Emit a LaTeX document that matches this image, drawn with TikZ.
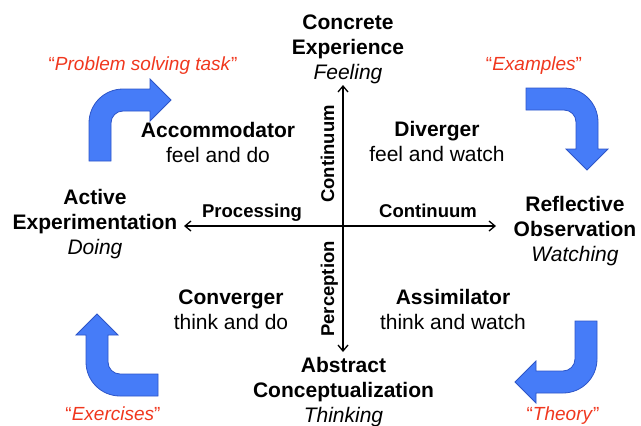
\documentclass[tikz,border=0pt]{standalone}
\usepackage{fontspec}
\setmainfont{Liberation Sans}
\usetikzlibrary{arrows.meta}
\definecolor{flowblue}{RGB}{70,124,248}
\definecolor{flowedge}{RGB}{45,85,200}
\definecolor{hintred}{RGB}{240,55,30}
\tikzset{
  mode/.style={anchor=north, inner sep=0pt, align=center,
    font=\fontsize{21}{25}\selectfont},
  axislabel/.style={anchor=base, inner sep=0pt,
    font=\fontsize{18.5}{22}\selectfont\bfseries},
  hint/.style={anchor=base, inner sep=0pt, text=hintred,
    font=\fontsize{19}{22}\selectfont},
  axis/.style={line width=1.3pt,
    {Straight Barb[length=6pt,width=10pt]}-{Straight Barb[length=6pt,width=10pt]}},
  % bent block arrow: outer corner at the origin, tail runs down, head points right
  bentarrow/.pic={
    \draw[fill=flowblue, draw=flowedge, line width=0.8pt, line join=miter]
      (0,72) -- (0,34) .. controls (0,15.22) and (15.22,0) .. (34,0)
      -- (61,0) -- (61,-10) -- (82,11) -- (61,32) -- (61,22) -- (34,22)
      .. controls (27.37,22) and (22,27.37) .. (22,34) -- (22,72) -- cycle;
  }
}
\begin{document}
\begin{tikzpicture}[x=1pt,y=-1pt]
\useasboundingbox (0,0) rectangle (641,426);

% cycle arrows between the four modes
\pic (toConcrete) at (89,89) {bentarrow};
\pic[rotate=-90] (toReflective) at (598,88) {bentarrow};
\pic[rotate=180] (toAbstract) at (597,393) {bentarrow};
\pic[rotate=90] (toActive) at (86,396) {bentarrow};

% axes
\coordinate (W) at (184,226);
\coordinate (E) at (496,226);
\coordinate (N) at (343,85);
\coordinate (S) at (343,352);
\draw[axis] (W) -- (E);
\draw[axis] (S) -- (N);

% the four learning modes
\node[mode] (CE) at (348,14.5) {\textbf{Concrete}\\\textbf{Experience}\\\textit{Feeling}};
\node[mode] (RO) at (575,196.5) {\textbf{Reflective}\\\textbf{Observation}\\\textit{Watching}};
\node[mode] (AC) at (343.5,357) {\textbf{Abstract}\\\textbf{Conceptualization}\\\textit{Thinking}};
\node[mode] (AE) at (95,189.5) {\textbf{Active}\\\textbf{Experimentation}\\\textit{Doing}};

% the four learning styles
\node[mode] (ACC) at (218,122.5) {\textbf{Accommodator}\\feel and do};
\node[mode] (DIV) at (437,121.5) {\textbf{Diverger}\\feel and watch};
\node[mode] (CON) at (231,289.5) {\textbf{Converger}\\think and do};
\node[mode] (ASS) at (453,289.5) {\textbf{Assimilator}\\think and watch};

% axis labels
\node[axislabel] (proc) at (252,217) {Processing};
\node[axislabel] (contH) at (428,217) {Continuum};
\node[axislabel, rotate=90] (contV) at (334,154) {Continuum};
\node[axislabel, rotate=90] (perc) at (334,289) {Perception};

% activity hints
\node[hint] (hProblem) at (143,70) {“\textit{Problem solving task}”};
\node[hint] (hExamples) at (534,70) {“\textit{Examples}”};
\node[hint] (hExercises) at (113,420.5) {“\textit{Exercises}”};
\node[hint] (hTheory) at (563,420.5) {“\textit{Theory}”};
\end{tikzpicture}
\end{document}
